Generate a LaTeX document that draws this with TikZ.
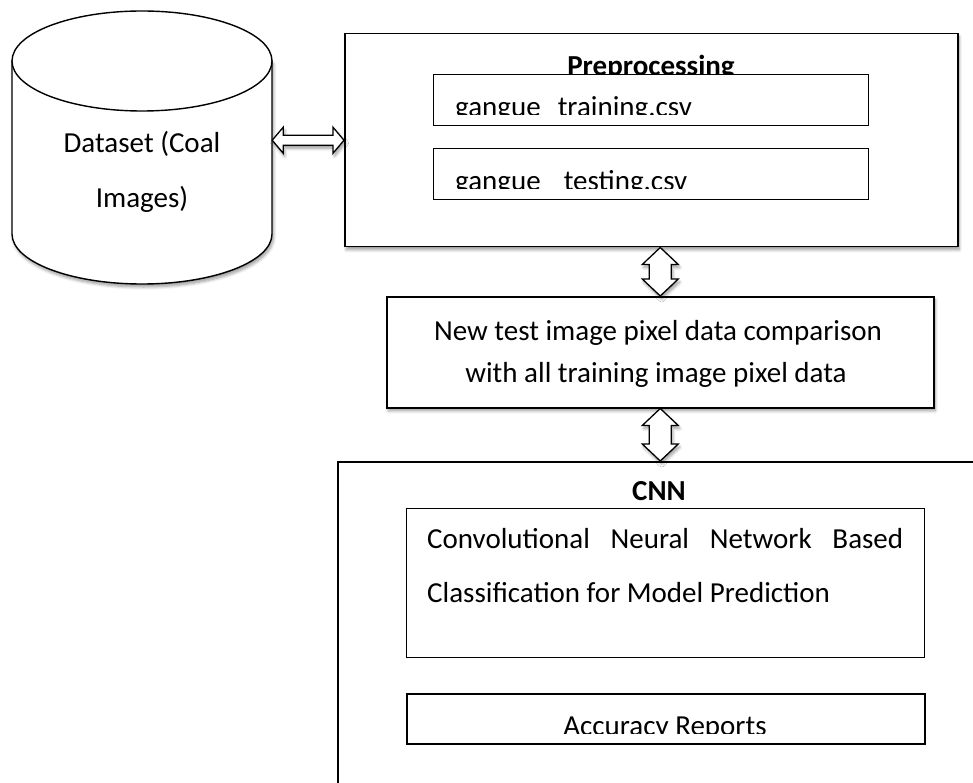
\documentclass[tikz,border=0pt]{standalone}
\usepackage{fontspec}
\setmainfont{Carlito}
\usetikzlibrary{calc,shadows,shadows.blur}
\begin{document}
\begin{tikzpicture}[x=1pt,y=-1pt,
  box/.style={draw, line width=1.5pt, fill=white, inner sep=0pt, anchor=north west},
  inbox/.style={draw, line width=1.2pt, fill=white, inner sep=0pt, anchor=north west},
  sh/.style={blur shadow={shadow xshift=1.5pt, shadow yshift=-3pt, shadow blur steps=6, shadow blur radius=3pt, shadow opacity=40}},
  txt/.style={inner sep=0pt, font=\fontsize{29}{41}\selectfont, anchor=base},
  btxt/.style={inner sep=0pt, font=\fontsize{29}{41}\selectfont\bfseries, anchor=base},
  fat/.style={draw, line width=1.3pt, fill=white, line join=miter}]
\useasboundingbox (0,0) rectangle (973,783);

% cylinder
\path[draw, line width=1.4pt, fill=white, sh] (12,61) -- (12,234)
  arc[start angle=180, end angle=0, x radius=130, y radius=50] -- (272,61) -- cycle;
\draw[line width=1.4pt, fill=white] (142,61) ellipse [x radius=130, y radius=50];
\node[inner sep=0pt, minimum width=260pt, minimum height=273pt] (cyl) at (142,146.5) {};
\node[txt] (ds1) at (142,153) {Dataset (Coal};
\node[txt] (ds2) at (142,208) {Images)};

% preprocessing
\node[box, sh, minimum width=613pt, minimum height=213pt] (pre) at (344,33) {};
\node[btxt] (ptitle) at (651,76) {Preprocessing};
\node[inbox, minimum width=435pt, minimum height=51pt] (train) at (433,74) {};
\begin{scope}
  \clip (433,74) rectangle (868,115);
  \node[txt, anchor=base west] (traintxt) at (455,117) {gangue\hspace{17pt}training.csv};
\end{scope}
\node[inbox, minimum width=435pt, minimum height=51pt] (test) at (433,148) {};
\begin{scope}
  \clip (433,148) rectangle (868,189);
  \node[txt, anchor=base west] (testtxt) at (455,191) {gangue\hspace{23pt}testing.csv};
\end{scope}

% comparison
\node[box, sh, minimum width=547pt, minimum height=111pt] (mid) at (386,296) {};
\node[txt] (m1) at (658,340) {New test image pixel data comparison};
\node[txt] (m2) at (656,382) {with all training image pixel data};

% CNN
\node[box, line width=2pt, minimum width=660pt, minimum height=340pt] (cnn) at (337,461) {};
\node[btxt] (cnntitle) at (659,500) {CNN};
\node[inbox, minimum width=518pt, minimum height=149pt] (conv) at (406,508) {};
\node[txt, anchor=base west] (c1) at (427,548) {\makebox[476pt][s]{Convolutional Neural Network Based}};
\node[txt, anchor=base west] (c2) at (427,602) {Classification for Model Prediction};
\node[inbox, line width=1.5pt, minimum width=518pt, minimum height=50pt] (acc) at (406,693) {};
\begin{scope}
  \clip (406,693) rectangle (924,733);
  \node[txt] (acctxt) at (665,735) {Accuracy Reports};
\end{scope}

% arrows
\draw[fat, sh] let \p1=(cyl.east |- pre.west), \p2=(pre.west) in
  (\x1,\y1) -- (\x1+11pt,\y1+13pt) -- (\x1+11pt,\y1+5pt) -- (\x2-11pt,\y1+5pt) -- (\x2-11pt,\y1+13pt)
  -- (\x2,\y1) -- (\x2-11pt,\y1-13pt) -- (\x2-11pt,\y1-5pt) -- (\x1+11pt,\y1-5pt) -- (\x1+11pt,\y1-13pt) -- cycle;
\draw[fat, sh] let \p1=(pre.south -| mid.north), \p2=(mid.north) in
  (\x1,\y1) -- (\x1+18pt,\y1-17pt) -- (\x1+11pt,\y1-17pt) -- (\x1+11pt,\y2+17pt) -- (\x1+18pt,\y2+17pt)
  -- (\x2,\y2) -- (\x1-18pt,\y2+17pt) -- (\x1-11pt,\y2+17pt) -- (\x1-11pt,\y1-17pt) -- (\x1-18pt,\y1-17pt) -- cycle;
\draw[fat, sh] let \p1=(mid.south), \p2=(mid.south |- cnn.north) in
  (\x1,\y1) -- (\x1+18pt,\y1-17pt) -- (\x1+11pt,\y1-17pt) -- (\x1+11pt,\y2+17pt) -- (\x1+18pt,\y2+17pt)
  -- (\x2,\y2) -- (\x1-18pt,\y2+17pt) -- (\x1-11pt,\y2+17pt) -- (\x1-11pt,\y1-17pt) -- (\x1-18pt,\y1-17pt) -- cycle;
\end{tikzpicture}
\end{document}
